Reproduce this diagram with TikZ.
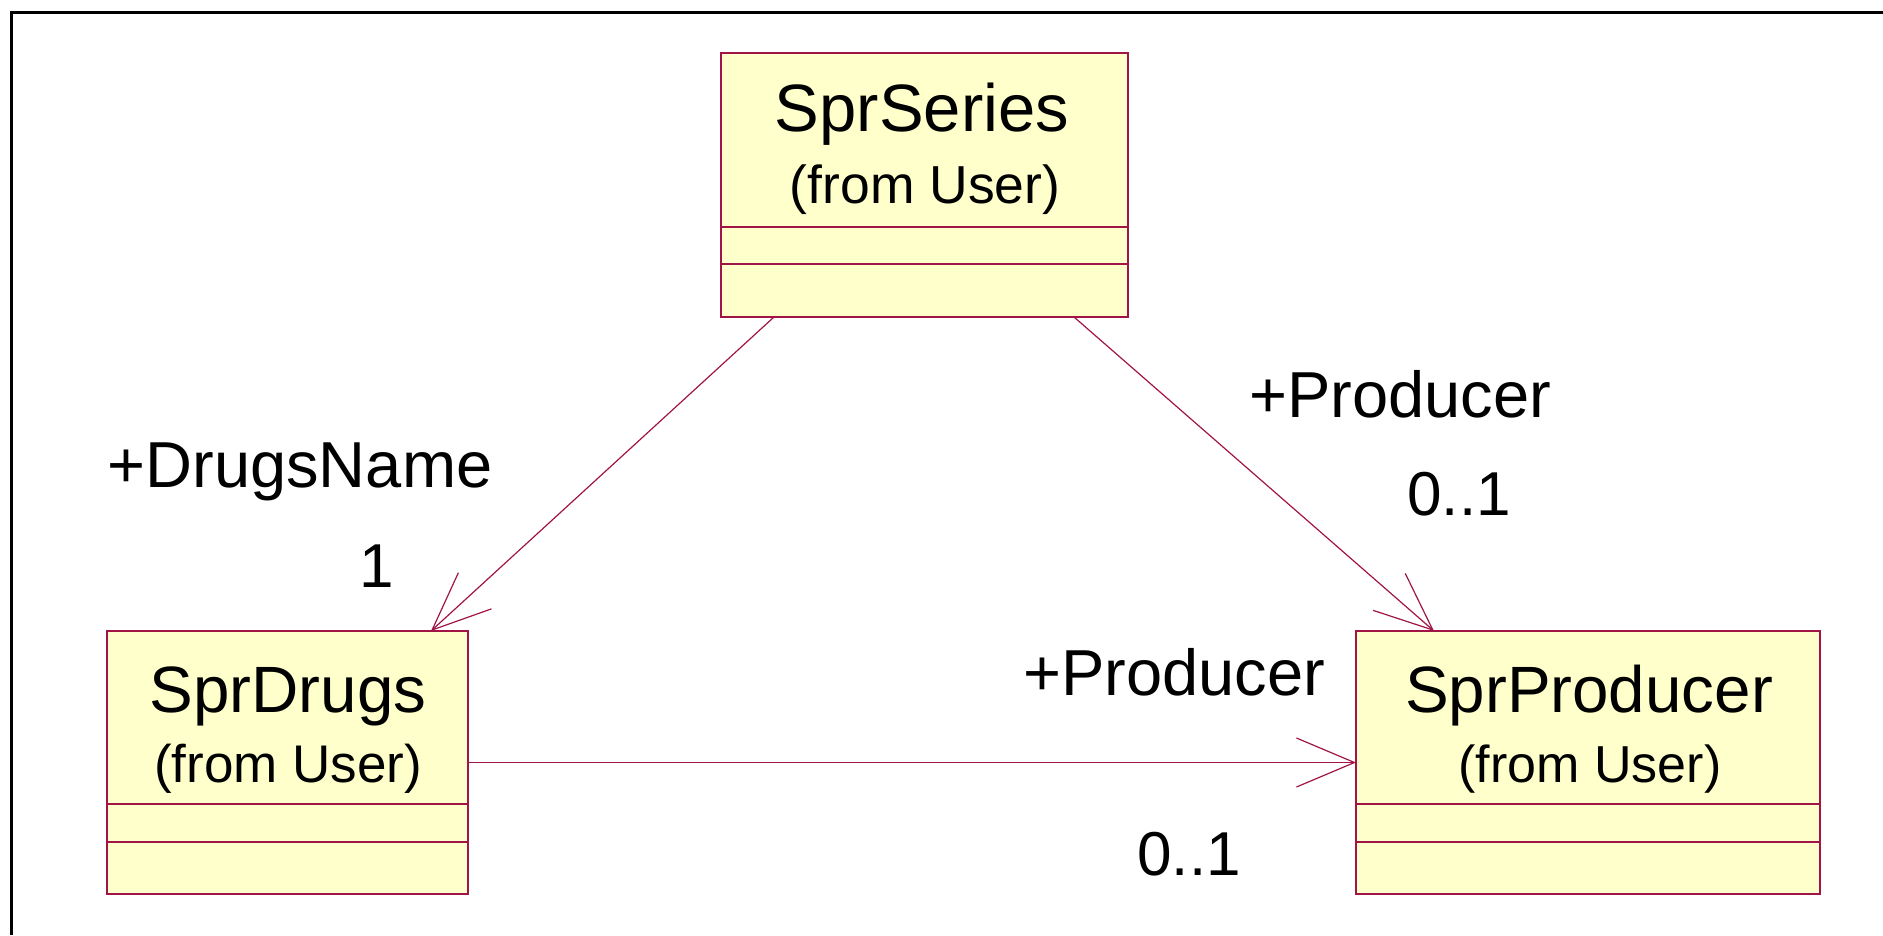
\documentclass[tikz,border=0pt]{standalone}
\usepackage{fontspec}
\setmainfont{Liberation Sans}
\usetikzlibrary{arrows.meta,calc}
\definecolor{umlline}{RGB}{160,20,70}
\definecolor{umlfill}{RGB}{255,255,204}
\begin{document}
\begin{tikzpicture}[x=1pt,y=-1pt,
  classbox/.style={draw=umlline, fill=umlfill, line width=1.5pt, rectangle, anchor=north west, inner sep=0pt, outer sep=0pt},
  sepline/.style={draw=umlline, line width=1.2pt},
  assoc/.style={draw=umlline, line width=1.2pt, -{Straight Barb[length=58pt,width=49pt,line width=1.2pt]}},
  lbl/.style={anchor=base, inner sep=0pt, font=\fontsize{65}{78}\selectfont},
  mult/.style={anchor=base, inner sep=0pt, font=\fontsize{62}{74}\selectfont},
  cname/.style={anchor=base, inner sep=0pt, font=\fontsize{#1}{#1}\selectfont},
  cfrom/.style={anchor=base, inner sep=0pt, font=\fontsize{#1}{#1}\selectfont}
]
\useasboundingbox (0,0) rectangle (1883,935);
% frame
\draw[line width=3pt] (11,935) -- (11,12) -- (1883,12);

% classes
\node[classbox, minimum width=407pt, minimum height=264pt] (series) at (721,53) {};
\node[classbox, minimum width=361pt, minimum height=263pt] (drugs) at (107,631) {};
\node[classbox, minimum width=464pt, minimum height=263pt] (producer) at (1356,631) {};

\draw[sepline] (721,227) -- (1128,227);
\draw[sepline] (721,264) -- (1128,264);
\draw[sepline] (107,804) -- (468,804);
\draw[sepline] (107,842) -- (468,842);
\draw[sepline] (1356,804) -- (1820,804);
\draw[sepline] (1356,842) -- (1820,842);

\node[cname=67] (seriesname) at (922,131) {SprSeries};
\node[cfrom=53.5] (seriesfrom) at (925,203) {(from User)};
\node[cname=65.5] (drugsname) at (288,712) {SprDrugs};
\node[cfrom=53] (drugsfrom) at (288,782) {(from User)};
\node[cname=65.5] (producername) at (1589,712) {SprProducer};
\node[cfrom=52] (producerfrom) at (1590,782) {(from User)};

% associations
\draw[assoc] ([xshift=53pt]series.south west) -- ([xshift=324pt]drugs.north west);
\draw[assoc] ([xshift=353pt]series.south west) -- ([xshift=78pt]producer.north west);
\draw[assoc] (drugs.east) -- (producer.west);

% role labels and multiplicities
\node[lbl] (rdrugs) at (300,487) {+DrugsName};
\node[mult] (mdrugs) at (377,587) {1};
\node[lbl] (rprod1) at (1400,417) {+Producer};
\node[mult] (mprod1) at (1459,515) {0..1};
\node[lbl] (rprod2) at (1174,695) {+Producer};
\node[mult] (mprod2) at (1189,875) {0..1};
\end{tikzpicture}
\end{document}
